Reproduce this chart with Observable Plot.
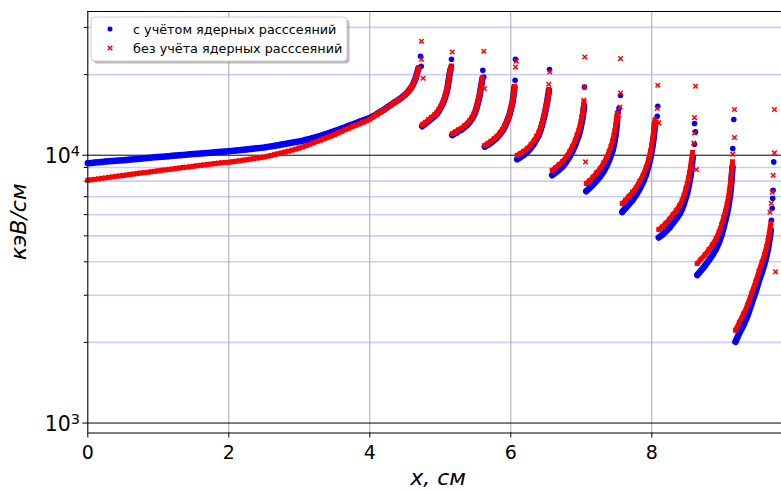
<!DOCTYPE html>
<html><head><meta charset="utf-8">
<script src="https://cdn.jsdelivr.net/npm/d3@7"></script>
<script src="https://cdn.jsdelivr.net/npm/@observablehq/plot@0.6"></script>
<style>body{margin:0;background:#fff;} #chart{position:relative;width:781px;height:490px;}</style>
</head><body><div id="chart"></div>
<script>
// ---- labels / ticks ----
const seriesNames = ["с учётом ядерных расссеяний", "без учёта ядерных расссеяний"];
const xLabel = "x, см";
const yLabel = "кэВ/см";
const xTicks = [0, 2, 4, 6, 8];
const majorTicks = [1000, 10000];
const majorExp = ["3", "4"];
const minorTicks = [2000, 3000, 4000, 5000, 6000, 7000, 8000, 9000, 20000, 30000];

// ---- data, segment by segment (x in cm, values in keV/cm) ----
const seg1X = [0,0.05,0.1,0.15,0.2,0.25,0.3,0.35,0.4,0.45,0.5,0.55,0.6,0.65,0.7,0.75,0.8,0.85,0.9,0.95,1,1.05,1.1,1.15,1.2,1.25,1.3,1.35,1.4,1.45,1.5,1.55,1.6,1.65,1.7,1.75,1.8,1.85,1.9,1.95,2,2.05,2.1,2.15,2.2,2.25,2.3,2.35,2.4,2.45,2.5,2.55,2.6,2.65,2.7,2.75,2.8,2.85,2.9,2.95,3,3.05,3.1,3.15,3.2,3.25,3.3,3.35,3.4,3.45,3.5,3.55,3.6,3.65,3.7,3.75,3.8,3.85,3.9,3.95,4,4.05,4.1,4.15,4.2,4.25,4.3,4.35,4.4,4.45,4.5,4.55,4.58,4.61,4.63,4.65,4.67,4.69];
const seg1Blue = [9340,9360,9385,9410,9440,9465,9495,9520,9540,9560,9585,9605,9630,9650,9680,9705,9740,9770,9795,9820,9845,9870,9895,9920,9945,9970,10000,10025,10050,10075,10100,10125,10150,10175,10200,10225,10250,10275,10300,10325,10350,10380,10410,10445,10475,10510,10545,10580,10615,10650,10690,10740,10790,10845,10900,10960,11020,11080,11140,11200,11260,11330,11420,11510,11610,11710,11820,11930,12050,12180,12310,12440,12580,12720,12870,13020,13170,13320,13470,13620,13780,13990,14250,14520,14780,15100,15420,15760,16050,16380,16800,17350,17780,18300,18800,19380,20200,21100];
const seg1Red = [8070,8095,8125,8160,8195,8230,8265,8300,8335,8370,8405,8440,8475,8510,8545,8580,8610,8640,8675,8710,8745,8780,8815,8850,8885,8920,8955,8990,9025,9060,9095,9130,9165,9200,9235,9270,9305,9340,9370,9395,9420,9455,9495,9535,9575,9620,9665,9710,9755,9795,9840,9910,9980,10050,10125,10200,10280,10360,10450,10540,10640,10740,10860,10990,11120,11250,11380,11510,11650,11790,11930,12100,12270,12440,12610,12780,12930,13080,13260,13420,13620,13910,14200,14480,14760,15080,15400,15740,16040,16380,16800,17350,17780,18300,18800,19380,20200,21100];

const seg2X = [4.743,4.790,4.833,4.875,4.918,4.953,4.982,5.010,5.031,5.052,5.067,5.081,5.092,5.102,5.111,5.119,5.128,5.136,5.145];
const seg2Blue = [12830,13110,13390,13680,13980,14280,14660,15110,15500,15970,16390,16890,17330,17860,18410,19050,19720,20320,20940];
const seg2Red = [12990,13280,13560,13850,14150,14450,14830,15280,15680,16150,16570,17070,17510,18040,18590,19230,19890,20500,21120];

const seg3X = [5.169,5.215,5.258,5.300,5.343,5.385,5.421,5.450,5.478,5.499,5.516,5.532,5.546,5.556,5.564,5.573,5.582,5.589,5.594];
const seg3Blue = [11880,12080,12290,12450,12720,13000,13340,13680,14100,14590,15040,15630,16180,16600,17110,17710,18250,18730,19210];
const seg3Red = [12030,12240,12450,12610,12890,13170,13510,13860,14280,14780,15240,15830,16390,16820,17330,17940,18490,18970,19460];

const seg4X = [5.631,5.677,5.719,5.762,5.804,5.847,5.882,5.915,5.942,5.965,5.982,5.996,6.009,6.020,6.028,6.035,6.043,6.048,6.052];
const seg4Blue = [10760,10940,11130,11380,11620,11980,12340,12770,13280,13740,14160,14660,15110,15500,15970,16460,17040,17480,17940];
const seg4Red = [10900,11080,11270,11520,11760,12120,12480,12910,13420,13880,14300,14800,15250,15640,16110,16600,17180,17620,18080];

const seg5X = [6.091,6.138,6.187,6.237,6.287,6.329,6.365,6.397,6.421,6.443,6.460,6.475,6.489,6.502,6.512,6.521,6.528,6.535,6.540];
const seg5Blue = [9660,9830,10040,10300,10670,11040,11470,11880,12400,12940,13450,13980,14530,15110,15630,16110,16600,17040,17480];
const seg5Red = [10000,10160,10360,10610,10970,11330,11750,12150,12660,13190,13680,14190,14730,15290,15800,16260,16740,17170,17600];

const seg6X = [6.587,6.634,6.684,6.733,6.783,6.833,6.875,6.911,6.939,6.965,6.982,6.996,7.007,7.017,7.026,7.033,7.038];
const seg6Blue = [8420,8600,8830,9060,9420,9870,10350,10850,11380,11880,12340,12830,13280,13740,14220,14720,15170];
const seg6Red = [8790,8980,9220,9460,9830,10300,10800,11330,11880,12400,12880,13390,13870,14340,14840,15370,15840];

const seg7X = [7.070,7.116,7.166,7.216,7.265,7.315,7.357,7.393,7.421,7.443,7.461,7.475,7.487,7.496,7.504,7.509];
const seg7Blue = [7340,7530,7760,8030,8310,8680,9100,9540,10000,10390,10900,11380,11930,12500,13060,13620];
const seg7Red = [7840,8030,8280,8600,8900,9340,9790,10310,10800,11280,11820,12340,12890,13390,13860,14340];

const seg8X = [7.580,7.627,7.677,7.726,7.776,7.826,7.875,7.918,7.953,7.982,8.000,8.014,8.024,8.033,8.040,8.045];
const seg8Blue = [6140,6340,6570,6790,7090,7470,7930,8460,9100,9790,10390,10940,11470,12030,12610,13160];
const seg8Red = [6600,6790,7030,7280,7560,7970,8420,8980,9620,10350,10940,11470,11980,12500,13060,13570];

const seg9X = [8.099,8.152,8.201,8.251,8.301,8.350,8.393,8.428,8.457,8.482,8.502,8.521,8.535,8.549,8.560,8.570,8.577];
const seg9Blue = [4930,5050,5200,5360,5580,5800,6020,6290,6590,6940,7210,7600,7970,8350,8790,9260,9660];
const seg9Red = [5280,5410,5580,5770,6000,6230,6480,6760,7090,7470,7800,8210,8600,8980,9420,9870,10260];

const seg10X = [8.644,8.698,8.755,8.811,8.861,8.911,8.953,8.989,9.021,9.045,9.067,9.085,9.099,9.112,9.122,9.130,9.137,9.145];
const seg10Blue = [3570,3710,3870,4060,4240,4460,4720,5030,5400,5720,6050,6400,6760,7150,7560,8000,8490,9020];
const seg10Red = [3940,4090,4250,4440,4630,4880,5160,5500,5870,6180,6540,6910,7280,7690,8100,8530,8980,9460];

const seg11X = [9.187,9.243,9.300,9.357,9.413,9.471,9.520,9.563,9.598,9.627,9.648,9.665,9.678,9.688];
const seg11Blue = [2010,2170,2320,2510,2780,3080,3390,3660,3920,4200,4460,4740,4990,5250];
const seg11Red = [2220,2380,2550,2760,3040,3360,3690,3990,4250,4540,4800,5070,5320,5580];

// sparse points near the top of each peak
const blueTipX = [4.719,4.729,5.155,5.159,5.603,5.617,6.061,6.066,6.549,7.045,7.045,7.523,7.535,7.556,8.077,8.085,8.588,8.606,8.620,8.606,9.149,9.163,9.698,9.708,9.715,9.722,9.730];
const blueTipY = [23410,21480,21480,22810,20760,19600,19050,22810,20880,15270,17980,14470,14970,16710,13980,15230,9860,10990,12220,13130,10590,13590,5720,6340,6910,7400,9440];
const redTipX = [4.733,4.733,4.757,5.159,5.169,5.617,5.627,6.066,6.081,6.539,6.553,7.036,7.045,7.050,7.060,7.532,7.549,7.556,7.556,8.066,8.099,8.077,8.085,8.596,8.606,8.606,8.620,8.634,9.149,9.173,9.173,9.677,9.694,9.708,9.722,9.740,9.740,9.755];
const redTipY = [26630,22810,19380,21540,24290,24440,17740,21350,22430,18410,20450,16040,17980,23270,9440,14100,15140,17080,22950,13310,13200,14940,18250,11110,12110,13820,18090,8840,10090,11640,14810,6130,6620,7280,8420,10200,14810,3670];

// ---- build tables ----
const segments = [
  [seg1X, seg1Blue, seg1Red], [seg2X, seg2Blue, seg2Red], [seg3X, seg3Blue, seg3Red],
  [seg4X, seg4Blue, seg4Red], [seg5X, seg5Blue, seg5Red], [seg6X, seg6Blue, seg6Red],
  [seg7X, seg7Blue, seg7Red], [seg8X, seg8Blue, seg8Red], [seg9X, seg9Blue, seg9Red],
  [seg10X, seg10Blue, seg10Red], [seg11X, seg11Blue, seg11Red]
];
const blueDense = [], redDense = [];
segments.forEach(([xs, b, r], s) => xs.forEach((x, i) => {
  blueDense.push({x, y: b[i], seg: s});
  redDense.push({x, y: r[i], seg: s});
}));
const blueData = blueDense.concat(blueTipX.map((x, i) => ({x, y: blueTipY[i]})));
const redData = redDense.concat(redTipX.map((x, i) => ({x, y: redTipY[i]})));

const yMin = 918, yMax = 34400;
const chart = Plot.plot({
  width: 781, height: 490,
  marginLeft: 87.3, marginRight: 0, marginTop: 11, marginBottom: 57.5,
  style: {fontFamily: "DejaVu Sans", fontSize: "19px", color: "black", background: "white", overflow: "visible"},
  x: {domain: [0, 9.84]},
  y: {type: "log", domain: [yMin, yMax]},
  marks: [
    Plot.ruleY(minorTicks, {stroke: "blue", strokeOpacity: 0.2, strokeWidth: 1.6}),
    Plot.ruleX(xTicks.slice(1), {stroke: "#a8a8a8", strokeWidth: 1}),
    Plot.ruleY(majorTicks, {stroke: "black", strokeWidth: 1}),
    // dense runs of overlapping markers
    Plot.line(blueDense, {x: "x", y: "y", z: "seg", stroke: "blue", strokeWidth: 6.5, strokeLinecap: "round", strokeLinejoin: "round"}),
    Plot.dot(blueData, {x: "x", y: "y", r: 2.8, fill: "blue"}),
    Plot.line(redDense, {x: "x", y: "y", z: "seg", stroke: "red", strokeWidth: 5, strokeLinecap: "round", strokeLinejoin: "round"}),
    Plot.dot(redData, {x: "x", y: "y", r: 2.2, symbol: "times", stroke: "red", strokeWidth: 1.5}),
    Plot.ruleX([0], {stroke: "black", strokeWidth: 1.1}),
    Plot.ruleY([yMin, yMax], {stroke: "black", strokeWidth: 1.1}),
    Plot.axisX({ticks: xTicks, tickSize: 5, tickPadding: 7, tickFormat: d => String(d), label: null}),
    Plot.axisY({ticks: majorTicks, tickSize: 5, tickFormat: () => "", label: null}),
    Plot.axisY({ticks: minorTicks, tickSize: 3.5, tickFormat: () => "", label: null})
  ]
});
document.getElementById("chart").appendChild(chart);

// ---- text overlays drawn with the plot's own scales ----
const svg = d3.select(chart);
const ys = chart.scale("y");
const g = svg.append("g").attr("font-family", "DejaVu Sans").attr("fill", "black");
majorTicks.forEach((v, i) => {
  const t = g.append("text").attr("x", 80).attr("y", ys.apply(v) + 8.5)
    .attr("text-anchor", "end").attr("font-size", 20.5);
  t.append("tspan").text("10");
  t.append("tspan").attr("font-size", 14.5).attr("dy", -7).text(majorExp[i]);
});
g.append("text").attr("x", 438).attr("y", 485).attr("text-anchor", "middle")
  .attr("font-size", 22).attr("font-style", "italic").text(xLabel);
g.append("text").attr("transform", "translate(26,221.75) rotate(-90)").attr("text-anchor", "middle")
  .attr("font-size", 22).attr("font-style", "italic").text(yLabel);

// legend
const lg = svg.append("g").attr("font-family", "DejaVu Sans").attr("text-anchor", "start");
lg.append("rect").attr("x", 93.5).attr("y", 19.5).attr("width", 256).attr("height", 44).attr("rx", 4)
  .attr("fill", "#777").attr("opacity", 0.5);
lg.append("rect").attr("x", 91).attr("y", 17).attr("width", 256).attr("height", 44).attr("rx", 4)
  .attr("fill", "white").attr("stroke", "#cccccc").attr("stroke-width", 1);
lg.append("circle").attr("cx", 110).attr("cy", 29).attr("r", 2.5).attr("fill", "blue");
lg.append("path").attr("transform", "translate(110,48)")
  .attr("d", d3.symbol(d3.symbolTimes, Math.PI * 2.2 * 2.2)())
  .attr("stroke", "red").attr("stroke-width", 1.5).attr("fill", "none");
lg.append("text").attr("x", 133).attr("y", 33.5).attr("text-anchor", "start").attr("font-size", 12.8).text(seriesNames[0]);
lg.append("text").attr("x", 133).attr("y", 52.5).attr("text-anchor", "start").attr("font-size", 12.8).text(seriesNames[1]);
</script>
</body></html>
